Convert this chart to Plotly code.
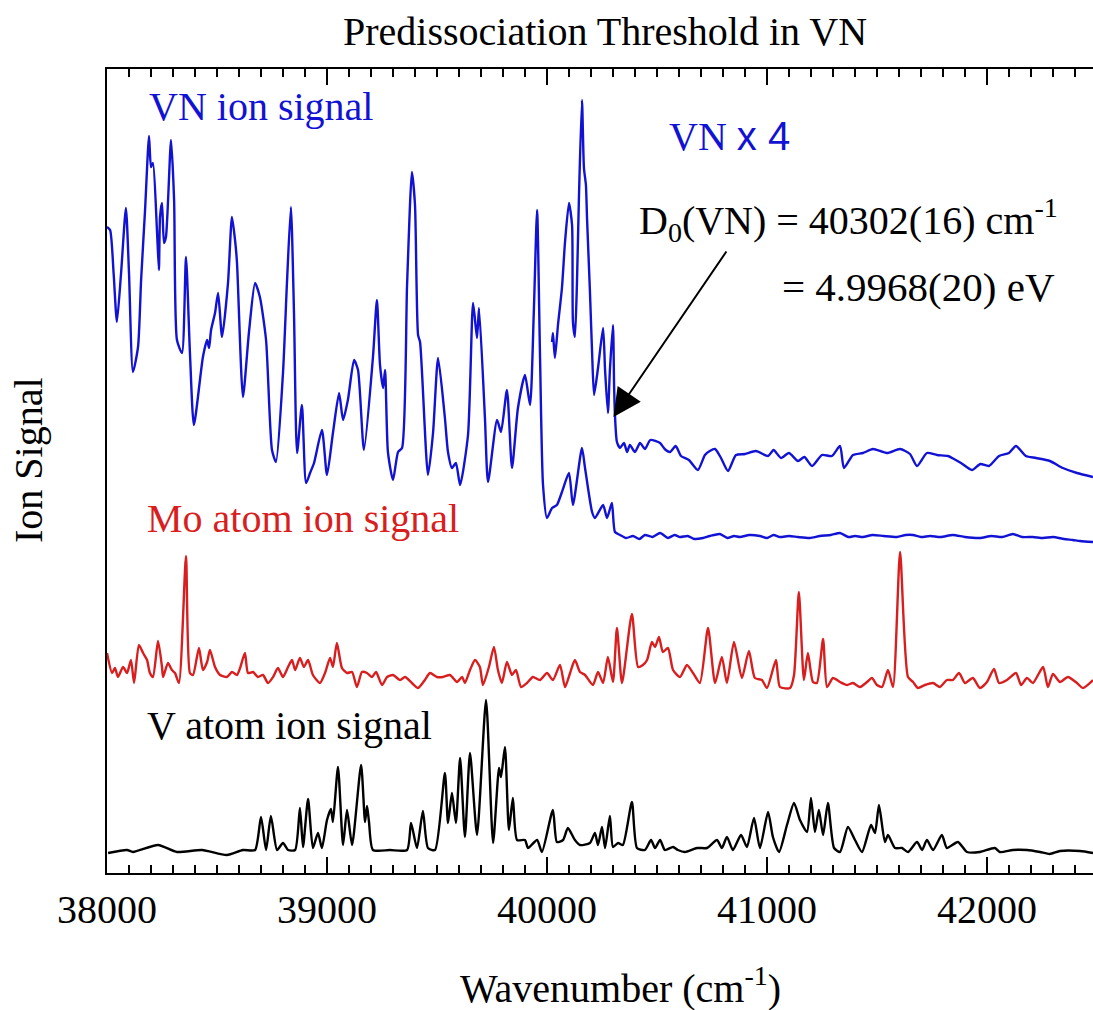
import plotly.graph_objects as go

# ---------------- data (wavenumber in cm-1, ion signal in arbitrary units) ----------------
# VN ion signal (x4 below 40000 cm-1, continuing as the x1 trace above the threshold)
VN_A_WN = [38000, 38014, 38030, 38045, 38064, 38086, 38100, 38118, 38141, 38155, 38173, 38191,
           38200, 38209, 38227, 38236, 38241, 38250, 38259, 38268, 38291, 38305, 38318, 38341,
           38359, 38377, 38395, 38436, 38455, 38464, 38473, 38491, 38505, 38523, 38550, 38568,
           38582, 38591, 38618, 38645, 38673, 38695, 38723, 38750, 38768, 38800, 38818, 38836,
           38850, 38864, 38886, 38905, 38923, 38941, 38977, 39000, 39027, 39055, 39073, 39095,
           39123, 39141, 39168, 39209, 39227, 39241, 39255, 39264, 39277, 39300, 39323, 39341,
           39364, 39386, 39400, 39414, 39423, 39459, 39482, 39505, 39536, 39550, 39568, 39586,
           39605, 39641, 39664, 39682, 39691, 39718, 39732, 39773, 39791, 39818, 39841, 39868,
           39900, 39923, 39940, 39955, 39968, 39982, 40000, 40023, 40045, 40068, 40100, 40118,
           40159, 40173, 40205, 40218, 40255, 40273, 40295, 40309, 40332, 40360, 40391, 40420,
           40445, 40480, 40514, 40550, 40580, 40605, 40640, 40670, 40709, 40740, 40786, 40820,
           40850, 40877, 40920, 40968, 41000, 41030, 41059, 41100, 41140, 41195, 41240, 41290,
           41332, 41370, 41400, 41436, 41480, 41530, 41591, 41630, 41664, 41700, 41741, 41790,
           41845, 41900, 41968, 42020, 42070, 42118, 42160, 42209, 42255, 42300, 42350, 42390,
           42423, 42482]
VN_A_SIG = [646, 643, 600, 551, 600, 665, 600, 501, 526, 593, 663, 737,
            706, 710, 643, 603, 656, 670, 630, 636, 733, 673, 533, 520,
            616, 520, 448, 516, 533, 525, 543, 560, 580, 536, 590, 656,
            633, 610, 476, 540, 590, 576, 533, 423, 411, 500, 590, 666,
            560, 420, 468, 390, 400, 410, 443, 398, 440, 480, 453, 473,
            513, 503, 423, 516, 573, 508, 485, 503, 421, 393, 421, 425,
            588, 701, 668, 538, 531, 398, 440, 515, 455, 421, 405, 410,
            388, 438, 570, 535, 565, 455, 391, 453, 441, 483, 405, 465,
            498, 468, 560, 663, 521, 388, 355, 365, 368, 381, 400, 368,
            425, 405, 361, 355, 368, 355, 370, 341, 338, 335, 337, 334,
            338, 336, 340, 335, 338, 336, 337, 334, 335, 337, 339, 335,
            337, 336, 338, 337, 335, 338, 336, 337, 336, 335, 337, 338,
            340, 336, 337, 336, 338, 337, 336, 338, 338, 336, 337, 336,
            338, 336, 335, 337, 336, 339, 336, 336, 335, 336, 334, 333,
            332, 331]

# VN ion signal x4 above 40000 cm-1
VN_B_WN = [40023, 40027, 40036, 40050, 40068, 40082, 40100, 40114, 40118, 40127, 40136, 40145,
           40159, 40168, 40177, 40182, 40195, 40205, 40214, 40232, 40255, 40264, 40277, 40286,
           40300, 40305, 40309, 40318, 40332, 40350, 40364, 40377, 40400, 40423, 40445, 40470,
           40514, 40535, 40559, 40585, 40609, 40645, 40686, 40718, 40740, 40764, 40791, 40823,
           40859, 40900, 40950, 41005, 41030, 41064, 41100, 41141, 41170, 41205, 41250, 41295,
           41332, 41350, 41391, 41436, 41482, 41545, 41605, 41650, 41682, 41727, 41773, 41823,
           41850, 41882, 41932, 41970, 42009, 42055, 42100, 42132, 42177, 42223, 42286, 42345,
           42409, 42482]
VN_B_SIG = [531, 540, 515, 548, 585, 631, 670, 648, 551, 536, 588, 673,
            773, 705, 688, 655, 583, 521, 478, 505, 545, 503, 460, 503,
            548, 488, 458, 431, 425, 430, 421, 428, 421, 430, 424, 433,
            430, 424, 421, 427, 417, 413, 403, 418, 422, 424, 415, 402,
            418, 419, 422, 417, 423, 415, 420, 412, 416, 407, 418, 417,
            427, 405, 418, 420, 424, 420, 424, 419, 407, 420, 418, 417,
            414, 410, 403, 409, 407, 417, 420, 427, 417, 415, 412, 405,
            400, 396]

# Mo atom ion signal
MO_WN = [38000, 38023, 38036, 38050, 38073, 38091, 38109, 38123, 38145, 38164, 38182, 38195,
         38209, 38232, 38250, 38255, 38277, 38295, 38309, 38327, 38359, 38377, 38391, 38418,
         38436, 38455, 38468, 38491, 38514, 38545, 38568, 38591, 38605, 38627, 38641, 38664,
         38686, 38709, 38732, 38755, 38777, 38800, 38823, 38841, 38855, 38877, 38895, 38914,
         38936, 38968, 38991, 39014, 39027, 39045, 39068, 39091, 39114, 39136, 39159, 39182,
         39205, 39223, 39250, 39273, 39300, 39332, 39355, 39386, 39414, 39445, 39468, 39500,
         39527, 39559, 39591, 39614, 39627, 39650, 39673, 39695, 39709, 39736, 39759, 39777,
         39795, 39818, 39841, 39859, 39882, 39909, 39936, 39968, 40000, 40027, 40059, 40082,
         40105, 40127, 40150, 40173, 40209, 40232, 40255, 40277, 40300, 40318, 40341, 40386,
         40414, 40436, 40455, 40477, 40491, 40509, 40527, 40550, 40573, 40605, 40636, 40664,
         40695, 40732, 40764, 40795, 40818, 40850, 40886, 40918, 40945, 40977, 41000, 41041,
         41059, 41105, 41123, 41145, 41168, 41186, 41209, 41227, 41255, 41273, 41300, 41332,
         41364, 41391, 41423, 41455, 41477, 41500, 41523, 41550, 41573, 41605, 41641, 41664,
         41686, 41718, 41755, 41786, 41818, 41845, 41873, 41900, 41936, 41968, 42000, 42032,
         42055, 42091, 42132, 42155, 42182, 42209, 42255, 42277, 42300, 42332, 42368, 42409,
         42436, 42482]
MO_SIG = [220, 200, 205, 196, 206, 200, 213, 190, 228, 220, 213, 200,
          196, 232, 206, 196, 210, 203, 200, 190, 317, 200, 198, 225,
          203, 211, 223, 206, 198, 196, 201, 198, 205, 220, 200, 201,
          196, 198, 190, 196, 205, 196, 206, 213, 203, 215, 206, 213,
          198, 190, 200, 215, 206, 230, 205, 200, 201, 186, 201, 200,
          196, 201, 188, 196, 198, 193, 196, 190, 185, 193, 200, 196,
          196, 198, 191, 196, 190, 203, 213, 206, 188, 206, 226, 203,
          190, 211, 198, 203, 186, 190, 196, 193, 200, 193, 208, 186,
          200, 213, 201, 198, 188, 201, 190, 216, 191, 245, 190, 259,
          206, 208, 213, 231, 226, 236, 221, 225, 203, 196, 208, 200,
          190, 245, 190, 216, 190, 231, 195, 222, 195, 193, 185, 213,
          186, 185, 198, 281, 193, 220, 191, 190, 234, 186, 195, 191,
          188, 190, 186, 191, 195, 188, 186, 203, 186, 321, 196, 191,
          185, 188, 190, 186, 193, 193, 200, 190, 195, 185, 191, 204,
          190, 193, 200, 188, 195, 190, 206, 186, 199, 191, 196, 190,
          185, 193]

# V atom ion signal
V_WN = [38005, 38091, 38118, 38232, 38318, 38432, 38545, 38618, 38673, 38700, 38723, 38745,
        38773, 38800, 38823, 38855, 38877, 38891, 38914, 38936, 38959, 38977, 39000, 39018,
        39027, 39050, 39073, 39091, 39114, 39155, 39173, 39182, 39191, 39209, 39286, 39364,
        39382, 39409, 39436, 39459, 39491, 39536, 39550, 39568, 39586, 39605, 39627, 39650,
        39682, 39723, 39755, 39782, 39791, 39809, 39827, 39845, 39864, 39900, 39914, 39955,
        39977, 40027, 40045, 40073, 40095, 40127, 40150, 40195, 40218, 40232, 40250, 40264,
        40286, 40300, 40323, 40345, 40386, 40409, 40445, 40473, 40491, 40514, 40536, 40573,
        40595, 40627, 40682, 40727, 40773, 40795, 40818, 40845, 40882, 40909, 40941, 40968,
        41005, 41027, 41055, 41091, 41123, 41150, 41182, 41200, 41218, 41236, 41255, 41277,
        41305, 41332, 41368, 41400, 41432, 41473, 41491, 41509, 41536, 41550, 41582, 41614,
        41641, 41682, 41705, 41727, 41755, 41795, 41818, 41868, 41909, 41968, 42036, 42059,
        42118, 42182, 42241, 42286, 42332, 42423, 42482]
V_SIG = [20, 23, 21, 28, 21, 23, 18, 23, 23, 56, 23, 57,
         23, 30, 23, 23, 65, 26, 74, 25, 40, 25, 53, 64,
         51, 106, 28, 63, 28, 108, 51, 67, 51, 23, 23, 23,
         50, 25, 62, 25, 23, 100, 50, 80, 50, 115, 36, 120,
         38, 173, 30, 105, 96, 126, 43, 75, 33, 33, 25, 33,
         21, 63, 31, 33, 45, 33, 28, 30, 40, 28, 46, 25,
         57, 26, 30, 28, 71, 25, 23, 33, 25, 33, 23, 26,
         23, 21, 25, 25, 33, 25, 36, 23, 38, 26, 55, 25,
         61, 36, 21, 48, 70, 53, 41, 75, 41, 63, 38, 70,
         25, 21, 46, 33, 21, 48, 40, 68, 31, 38, 25, 25,
         21, 31, 23, 33, 23, 38, 25, 31, 21, 21, 25, 21,
         23, 23, 21, 19, 22, 22, 20]

X_TICKS = [38000, 39000, 40000, 41000, 42000]
X_TICK_TEXT = ["38000", "39000", "40000", "41000", "42000"]
D0_WN = 40302
D0_SIG = 456

# ---------------- figure ----------------
FONT = "Liberation Serif"
W, H = 1093, 1010
ML, MR, MT, MB = 107, 0, 69, 137
BLUE = "#1212d4"
RED = "#d81e1e"


def pxx(p):
    return (p - ML) / (W - ML - MR)


def pyy(p):
    return (H - MB - p) / (H - MT - MB)


fig = go.Figure()
line_w = 2.4
for xs, ys, col in [(VN_A_WN, VN_A_SIG, BLUE), (VN_B_WN, VN_B_SIG, BLUE),
                    (MO_WN, MO_SIG, RED), (V_WN, V_SIG, "black")]:
    fig.add_trace(go.Scatter(x=xs, y=ys, mode="lines",
                             line=dict(color=col, width=line_w, shape="spline", smoothing=0.6)))

ann = []


def txt(text, x, y, color="black", size=40, xanchor="left", angle=0):
    ann.append(dict(text=text, x=pxx(x), y=pyy(y), xref="paper", yref="paper",
                    xanchor=xanchor, yanchor="middle", showarrow=False, textangle=angle,
                    font=dict(family=FONT, size=size, color=color)))


txt("Predissociation Threshold in VN", 605, 31, xanchor="center", size=40)
txt("Ion Signal", 28, 460, xanchor="center", angle=-90, size=40)
txt("Wavenumber (cm<sup>-1</sup>)", 620, 985, xanchor="center", size=40)
txt("VN ion signal", 147, 106, color=BLUE, size=40)
txt("VN <span style='font-family:Liberation Sans'>x 4</span>", 667, 136, color=BLUE, size=40)
txt("Mo atom ion signal", 145, 518, color=RED, size=40)
txt("V atom ion signal", 145, 725, size=40)
txt("D<sub>0</sub>(VN) = 40302(16) cm<sup>-1</sup>", 637, 220, size=40)
txt("= 4.9968(20) eV", 780, 287, size=41)

ann.append(dict(text="", x=D0_WN, y=D0_SIG, xref="x", yref="y", showarrow=True,
                ax=114, ay=-167, arrowhead=2, arrowsize=2.8, arrowwidth=2, arrowcolor="black"))

fig.update_layout(
    width=W, height=H,
    margin=dict(l=ML, r=MR, t=MT, b=MB, pad=0),
    paper_bgcolor="white", plot_bgcolor="white",
    showlegend=False,
    annotations=ann,
    font=dict(family=FONT, color="black"),
)
fig.update_xaxes(
    range=[38000, 42482], showgrid=False, zeroline=False,
    showline=True, linecolor="black", linewidth=2, mirror="allticks",
    ticks="inside", ticklen=16, tickwidth=2, tickcolor="black",
    tickvals=X_TICKS, ticktext=X_TICK_TEXT,
    tickfont=dict(family=FONT, size=40, color="black"),
    minor=dict(dtick=100, tick0=38000, ticks="inside", ticklen=8, tickwidth=2, tickcolor="black"),
)
fig.update_yaxes(
    range=[0, 804], showgrid=False, zeroline=False,
    showline=True, linecolor="black", linewidth=2, mirror=False,
    ticks="", showticklabels=False,
)

fig.write_html("out.html")
